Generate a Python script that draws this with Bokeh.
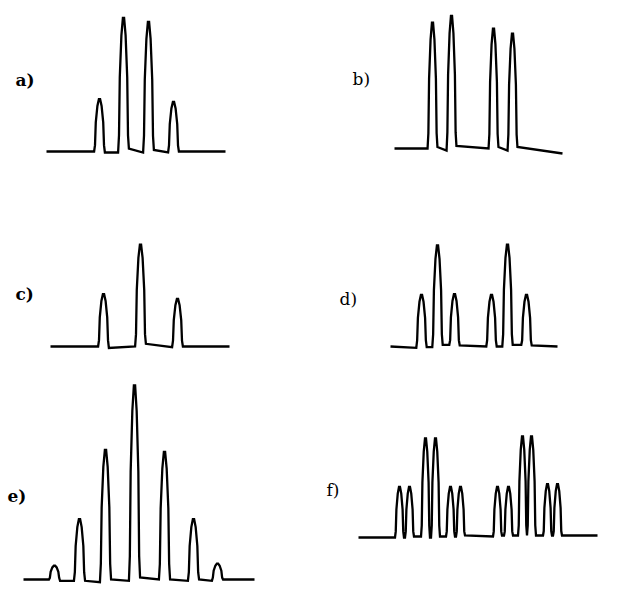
from bokeh.plotting import figure
from bokeh.models import Range1d, ColumnDataSource
from bokeh.core.properties import value
from bokeh.embed import file_html
from bokeh.resources import INLINE

# ---- data: peak positions (relative, px-like units) and heights (intensity) ----
a_pos = [0, 24, 49, 74]
a_int = [53, 135, 131, 50]
a_drift = [(0, 0), (1, 1), (-3, 1), (-1.5, 1), (0, 0)]

b_pos = [0, 19, 61, 80]
b_int = [127, 134, 121, 116]
b_drift = [(0, 0), (-1.5, 2), (-2.5, 0), (-1.5, 2), (-1.5, 5)]

c_pos = [0, 37, 74]
c_int = [53, 103, 48]
c_drift = [(0, 0), (1.5, 0), (-2.7, 0.7), (0, 0)]

d_pos = [0, 16, 33, 70, 86, 105]
d_int = [52, 102, 53, 52, 103, 52]
d_drift = [(0, 1.3), (0.7, 0.7), (-1.7, -1.7), (-1, 0), (0, 0), (-1.7, -1.7), (-1, 0)]

e_pos = [0, 25, 51, 80, 110, 139, 163]
e_int = [14, 61, 131, 196, 129, 61, 16]
e_drift = [(0, 0), (1.3, 1.3), (1.3, 2.7), (0, 1.3), (-2, 0), (0, 1.3), (0, 1.3), (0, 0)]

f_pos = [0, 10, 26, 36, 51, 61, 98, 109, 123, 132, 148, 158]
f_int = [51, 51, 100, 100, 51, 51, 51, 51, 102, 102, 54, 54]
f_drift = [(0, 0), (0, 0), (-1, -1), (0, 0), (-1, -1), (-1, -1), (-2, -1),
           (-2, -2), (-2, -2), (-2, -2), (-2, -2), (-2, -2), (-2, -2)]

labels = ["a)", "b)", "c)", "d)", "e)", "f)"]

# ---- layout: (first-peak x, baseline y, left end, right end, half width) ----
layout = {
    "a": dict(x0=99, base=151, left=46, right=225, w=6.0, lab=(15, 79), bold=True),
    "b": dict(x0=432, base=148, left=394, right=562, w=5.5, lab=(352, 78), bold=False),
    "c": dict(x0=103, base=346, left=50, right=229, w=6.0, lab=(15, 293), bold=True),
    "d": dict(x0=421, base=346, left=339, right=557, w=5.8, lab=(339, 298), bold=False),
    "e": dict(x0=54, base=579, left=23, right=254, w=6.2, lab=(7, 495), bold=True),
    "f": dict(x0=399, base=537, left=358, right=597, w=5.0, lab=(326, 489), bold=False),
}
layout["d"]["left"] = 390
data = {
    "a": (a_pos, a_int, a_drift), "b": (b_pos, b_int, b_drift),
    "c": (c_pos, c_int, c_drift), "d": (d_pos, d_int, d_drift),
    "e": (e_pos, e_int, e_drift), "f": (f_pos, f_int, f_drift),
}

profile = [(-0.9, 0.0), (-0.75, 0.12), (-0.62, 0.55), (-0.35, 0.86), (-0.1, 0.99),
           (0.1, 0.99), (0.35, 0.86), (0.62, 0.55), (0.75, 0.12), (0.9, 0.0)]

W, H = 603, 585
p = figure(width=W, height=H, output_backend="svg", toolbar_location=None,
           x_range=Range1d(0, W), y_range=Range1d(H, 0),
           min_border=0, outline_line_color=None)
p.xaxis.visible = False
p.yaxis.visible = False
p.xgrid.visible = False
p.ygrid.visible = False
p.background_fill_color = "white"
p.border_fill_color = "white"

xs_all, ys_all = [], []
for key in ["a", "b", "c", "d", "e", "f"]:
    L = layout[key]
    pos, inten, drift = data[key]
    x0, base, w = L["x0"], L["base"], L["w"]
    xs, ys = [L["left"]], [base + drift[0][0]]
    for i, (ps, h) in enumerate(zip(pos, inten)):
        cx = x0 + ps
        xs.append(cx - w * 0.9)
        ys.append(base + drift[i][1])
        for fx, fy in profile[1:-1]:
            xs.append(cx + fx * w)
            ys.append(base - fy * h)
        xs.append(cx + w * 0.9)
        ys.append(base + drift[i + 1][0])
    xs.append(L["right"])
    ys.append(base + drift[-1][1])
    xs_all.append(xs)
    ys_all.append(ys)

p.multi_line(xs="xs", ys="ys", source=ColumnDataSource(dict(xs=xs_all, ys=ys_all)),
             line_color="black", line_width=2.3, line_join="miter")

for key, lab in zip(["a", "b", "c", "d", "e", "f"], labels):
    L = layout[key]
    p.text(x=[L["lab"][0]], y=[L["lab"][1]], text=[lab],
           text_font=value("DejaVu Serif"), text_font_size="17px",
           text_font_style="bold" if L["bold"] else "normal",
           text_align="left", text_baseline="middle", text_color="black")

open("out.html", "w").write(file_html(p, INLINE))
